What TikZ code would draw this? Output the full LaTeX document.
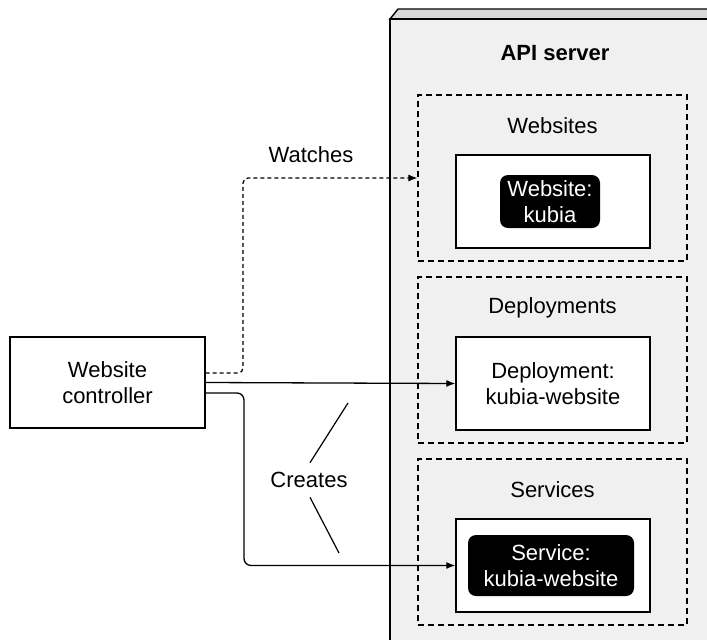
\documentclass[tikz,border=0pt]{standalone}
\usepackage{fontspec}
\setmainfont{Liberation Sans}
\usetikzlibrary{arrows.meta}
\definecolor{servergray}{RGB}{240,240,240}
\tikzstyle{group}=[draw,dashed,dash pattern=on 6pt off 4pt,line width=1.1pt,minimum width=269pt,minimum height=166pt,inner sep=0pt]
\tikzstyle{resource}=[draw,fill=white,line width=1.4pt,minimum width=194pt,minimum height=93pt,align=center,inner sep=0pt]
\tikzstyle{object}=[fill=black,text=white,rounded corners=8pt,align=center,inner sep=0pt]
\tikzstyle{edge}=[draw,line width=1.3pt,-{Latex[length=9pt,width=7pt]}]
\tikzstyle{watchedge}=[edge,dash pattern=on 4pt off 3pt,rounded corners=5pt]
\tikzstyle{lbl}=[align=center]

\begin{document}
\begin{tikzpicture}[x=1pt,y=-1pt,font=\fontsize{22}{26}\selectfont]
  \useasboundingbox (0,0) rectangle (707,640);
  \clip (0,0) rectangle (707,640);

  % API server (cut off at the right and bottom)
  \path[draw,line width=1.4pt,fill=servergray!80!gray] (390,19) -- (398,9) -- (720,9) -- (720,19) -- cycle;
  \path[draw,line width=1.4pt,fill=servergray] (390,19) rectangle (720,660);
  \node[font=\fontsize{22}{26}\selectfont\bfseries] (apiserver) at (555,53) {API server};

  % resource groups
  \foreach \pos/ \name/ \title in {{(552.5,178)/websites/Websites},{(552.5,360)/deployments/Deployments},{(552.5,542)/services/Services}}
  {
    \node[group] (\name) at \pos {};
    \node[lbl] (\name-title) at ([yshift=-31pt]\name.north) {\title};
  }

  % resources
  \node[resource] (websiteres) at (553,201.5) {};
  \node[object,minimum width=100pt,minimum height=53pt] (websiteobj) at (550,201.5) {Website:\\kubia};
  \node[resource] (deployres) at (553,383.5) {Deployment:\\kubia-website};
  \node[resource] (serviceres) at (553,565.5) {};
  \node[object,minimum width=166pt,minimum height=61pt] (serviceobj) at (551,565.5) {Service:\\kubia-website};

  % controller
  \node[resource,minimum width=195pt,minimum height=91pt] (controller) at (107.5,382.5) {Website\\controller};

  \coordinate (watchbend) at (243,0);
  \coordinate (createbend) at (244,0);

  % connectors
  \path[watchedge] ([yshift=9.5pt]controller.east) -| (watchbend |- websites.west) -- (websites.west);
  \path[edge] (controller.east) -- (deployres.west);
  \path[edge,rounded corners=7pt] ([yshift=-10.5pt]controller.east) -| (createbend |- serviceres.west) -- (serviceres.west);

  \node[lbl] (watches) at (311,155) {Watches};
  \node[lbl] (creates) at (309,480) {Creates};
  \coordinate (createtop) at (348,403);
  \coordinate (createbot) at (339,553);
  \draw[line width=1.2pt] (createtop) -- ([xshift=1pt,yshift=6pt]creates.north);
  \draw[line width=1.2pt] ([xshift=1pt,yshift=-6pt]creates.south) -- (createbot);

\end{tikzpicture}
\end{document}
